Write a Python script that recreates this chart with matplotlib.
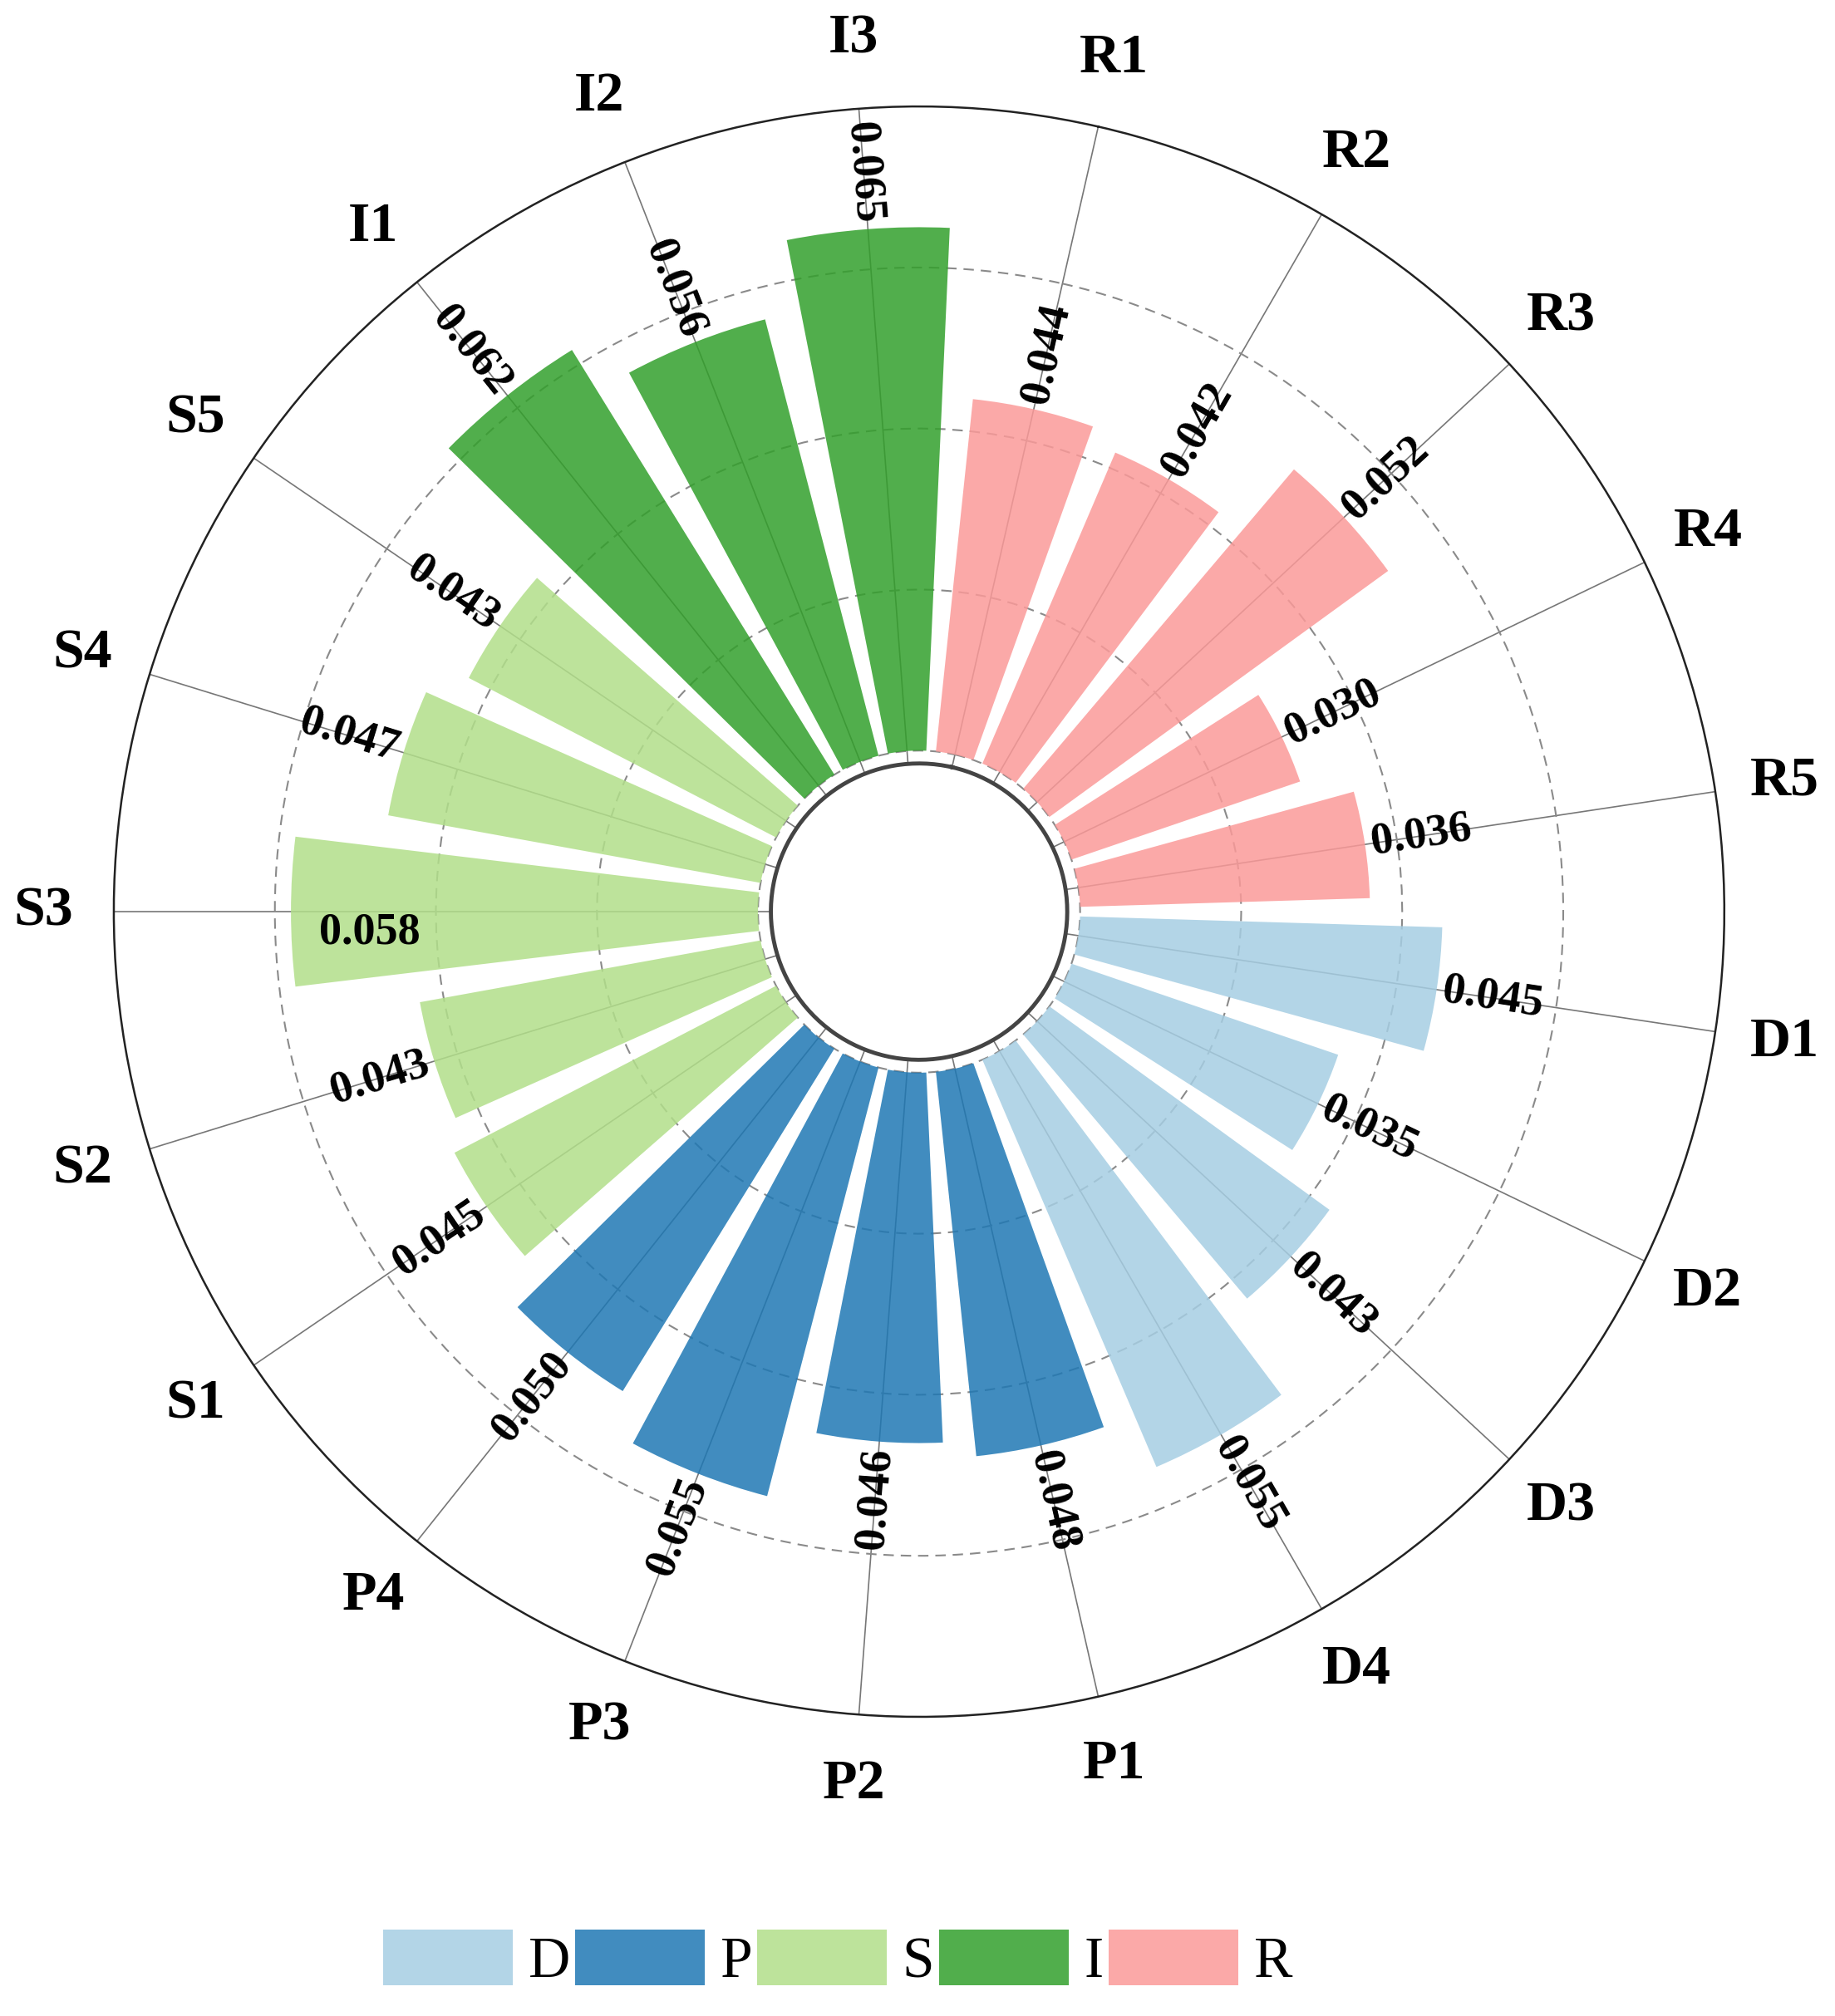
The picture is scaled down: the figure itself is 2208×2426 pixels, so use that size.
import numpy as np
import matplotlib.pyplot as plt
from matplotlib.patches import Patch

labels = ['R1', 'R2', 'R3', 'R4', 'R5', 'D1', 'D2', 'D3', 'D4', 'P1', 'P2',
          'P3', 'P4', 'S1', 'S2', 'S3', 'S4', 'S5', 'I1', 'I2', 'I3']
values = [0.044, 0.042, 0.052, 0.030, 0.036, 0.045, 0.035, 0.043, 0.055,
          0.048, 0.046, 0.055, 0.050, 0.045, 0.043, 0.058, 0.047, 0.043,
          0.062, 0.056, 0.065]
groups = ['D', 'P', 'S', 'I', 'R']
colors = {'D': '#a6cee3', 'P': '#1f78b4', 'S': '#b2df8a',
          'I': '#33a02c', 'R': '#fb9a99'}
# labels whose value text sits inside the bar in the original
inside = ['S3']

plt.rcParams['font.family'] = ['Liberation Serif', 'DejaVu Serif']

fig = plt.figure(figsize=(22.08, 24.26), dpi=100)
ax = fig.add_axes([0.062, 0.1484, 0.8777, 0.7988], projection='polar')

n = len(labels)
step = 2 * np.pi / n
theta = np.arange(n) * step
offset = np.pi / 2 - 0.75 * step
ax.set_theta_direction(-1)
ax.set_theta_offset(offset)
ax.set_rorigin(-0.02)
ax.set_ylim(-0.0016, 0.08)

bar_colors = [colors[l[0]] for l in labels]
ax.bar(theta, values, width=0.8 * step, bottom=0, color=bar_colors,
       alpha=0.85, edgecolor='none', zorder=2)

ax.set_axisbelow(True)
ax.set_xticks(theta)
ax.set_xticklabels([])
ax.xaxis.grid(True, color='#777777', lw=1.2, ls='-')
ax.set_yticks([0, 0.02, 0.04, 0.06])
ax.set_yticklabels([])
ax.yaxis.grid(True, color='#8a8a8a', lw=1.5, ls=(0, (6, 4)))
ax.tick_params(axis='x', direction='in', length=26, width=2, color='#333333')
ax.tick_params(axis='y', length=0)
ax.spines['polar'].set_linewidth(1.8)
ax.spines['polar'].set_color('#222222')
ax.spines['inner'].set_linewidth(3.5)
ax.spines['inner'].set_color('#444444')

# value labels along the spokes
pad = 0.0008
for t, v, lab in zip(theta, values, labels):
    ang = np.rad2deg(offset - t)
    ang = (ang + 180) % 360 - 180
    va = 'center'
    if lab in inside:
        rot, ha, r, va = 0, 'left', v - 0.0035, 'top'
    elif -90 <= ang <= 90:
        rot, ha, r = ang, 'left', v + pad
    else:
        rot = ang - 180 if ang > 0 else ang + 180
        ha, r = 'right', v + pad
    ax.text(t, r, '%.3f' % v, rotation=rot, rotation_mode='anchor',
            ha=ha, va=va, fontsize=39, fontweight='bold')

# category labels outside the circle
for t, lab in zip(theta, labels):
    ax.text(t, 0.0887, lab, ha='center', va='center', fontsize=49,
            fontweight='bold')

handles = [Patch(facecolor=colors[g], alpha=0.85, edgecolor='none', label=g)
           for g in groups]
fig.legend(handles=handles, loc='center', bbox_to_anchor=(0.4565, 0.028),
           ncol=5, frameon=False, fontsize=50, handlelength=2.25,
           handleheight=1.11, handletextpad=0.27, columnspacing=0.08,
           borderpad=0)

fig.savefig('out.png', dpi=100)
